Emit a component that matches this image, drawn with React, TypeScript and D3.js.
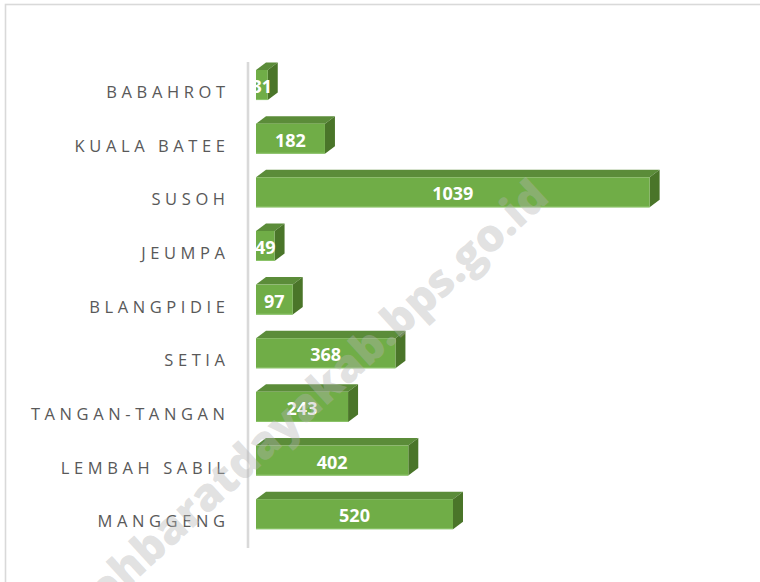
import React from "react";
import * as d3 from "d3";

const categories = ["BABAHROT", "KUALA BATEE", "SUSOH", "JEUMPA", "BLANGPIDIE", "SETIA", "TANGAN-TANGAN", "LEMBAH SABIL", "MANGGENG"];
const values = [31, 182, 1039, 49, 97, 368, 243, 402, 520];
const watermark = "acehbaratdayakab.bps.go.id";

const W = 760;
const H = 582;

export default function App() {
  const x = d3.scaleLinear().domain([0, 1200]).range([256, 256 + 1200 * (197 / 520)]);
  const y = d3.scaleBand<string>().domain(categories).range([58.2, 541.0]).paddingInner(0.44).paddingOuter(0.22);
  const dx = 10;
  const dy = 7.5;
  const ls = 4.6;

  return (
    <svg width={W} height={H} style={{ position: "absolute", left: 0, top: 0, background: "#fff" }}>
      <rect x={5.5} y={4.5} width={800} height={640} fill="#fff" stroke="#d9d9d9" strokeWidth={1.6} />
      <line x1={248} x2={248} y1={62} y2={548} stroke="#d9d9d9" strokeWidth={2.6} />
      {categories.map((c, i) => {
        const v = values[i];
        const bw = y.bandwidth();
        const y0 = (y(c) as number);
        const yc = y0 + bw / 2;
        const x0 = x(0);
        const x1 = x(v);
        return (
          <g key={c}>
            <text
              x={225 + ls}
              y={yc + 6.5}
              textAnchor="end"
              dominantBaseline="central"
              fontFamily="Open Sans, sans-serif"
              fontSize={16.5}
              letterSpacing={ls}
              fill="#595959"
            >
              {c}
            </text>
            <polygon
              points={`${x0},${y0} ${x0 + dx},${y0 - dy} ${x1 + dx},${y0 - dy} ${x1},${y0}`}
              fill="#5b8c39"
            />
            <polygon
              points={`${x1},${y0} ${x1 + dx},${y0 - dy} ${x1 + dx},${y0 + bw - dy} ${x1},${y0 + bw}`}
              fill="#4a7529"
            />
            <rect x={x0} y={y0} width={x1 - x0} height={bw} fill="#70ad47" />
            <line x1={x0} x2={x1} y1={y0 + bw - 0.5} y2={y0 + bw - 0.5} stroke="#8cc46a" strokeWidth={1} />
            <text
              x={(x0 + x1) / 2}
              y={yc + 1}
              textAnchor="middle"
              dominantBaseline="central"
              fontFamily="Open Sans, sans-serif"
              fontWeight={700}
              fontSize={18}
              fill="#ffffff"
            >
              {v}
            </text>
          </g>
        );
      })}
      <text
        x={0}
        y={0}
        textAnchor="end"
        transform="translate(551,200) rotate(-42.5)"
        fontFamily="Open Sans, sans-serif"
        fontWeight={800}
        fontSize={45}
        fill="#b4b4b4"
        fillOpacity={0.4}
      >
        {watermark}
      </text>
    </svg>
  );
}
